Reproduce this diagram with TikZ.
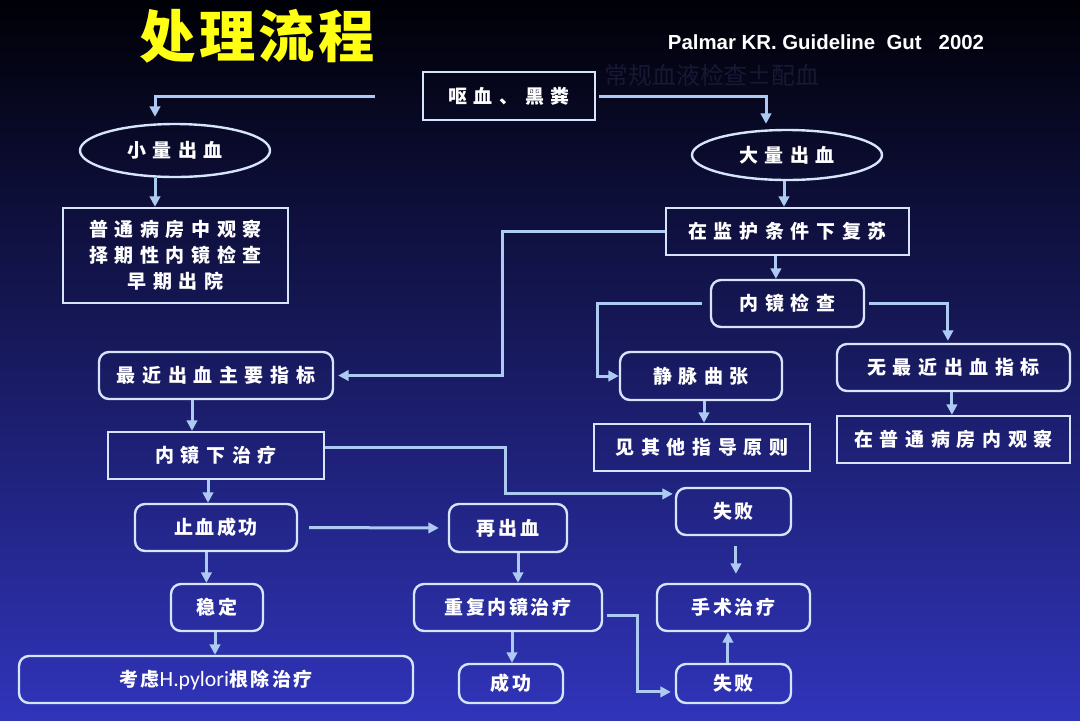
\documentclass[tikz,border=0pt]{standalone}
\usepackage{fontspec}
\setmainfont{Liberation Sans}
\newfontfamily\cjk[LetterSpace=35]{Noto Sans CJK SC}
\newfontfamily\cjktight[LetterSpace=14]{Noto Sans CJK SC}
\newfontfamily\cjktitle[LetterSpace=6]{Noto Sans CJK SC}
\newfontfamily\cjkplain{Noto Sans CJK SC}
\newfontfamily\latin{Carlito}
\usetikzlibrary{shapes.geometric, positioning, arrows.meta}
\definecolor{bgtop}{RGB}{0,0,6}
\definecolor{bgmid}{RGB}{30,33,128}
\definecolor{bgbot}{RGB}{48,52,186}
\definecolor{frame}{RGB}{214,228,252}
\definecolor{wire}{RGB}{172,202,242}
\definecolor{ghost}{RGB}{24,24,52}
\definecolor{titleyel}{RGB}{255,255,20}
\tikzset{x=0.25mm,y=-0.25mm,
  box/.style={draw=frame,line width=0.6mm,text=white,inner sep=0pt,align=center,
    font=\cjk\bfseries\fontsize{13.5}{18.5}\selectfont},
  rbox/.style={box,rounded corners=2.5mm},
  lbox/.style={rbox,font=\cjktight\bfseries\fontsize{13.5}{17}\selectfont},
  oval/.style={box,ellipse},
  arr/.style={draw=wire,line width=0.75mm,-{Triangle[length=2.6mm,width=2.6mm]}},
}

\begin{document}
\begin{tikzpicture}
\shade[top color=bgtop, middle color=bgmid, bottom color=bgbot] (0,0) rectangle (1080,720);
\node[font=\cjktitle\bfseries\fontsize{40}{44}\selectfont, text=titleyel] (title) at (257,36) {处理流程};
\node[font=\bfseries\fontsize{14.5}{17}\selectfont, text=white, anchor=west] (ref) at (663,42) {Palmar KR. Guideline\ \ Gut};
\node[font=\bfseries\fontsize{14.5}{17}\selectfont, text=white, anchor=east] (year) at (989,42) {2002};
\node[font=\cjkplain\fontsize{17}{20}\selectfont, text=ghost] (routine) at (712,75) {常规血液检查±配血};
\coordinate (vl) at (375,96);
\coordinate (cola) at (502,0);
\coordinate (colb) at (597,0);
\coordinate (colc) at (505,0);
\coordinate (cold) at (637,0);

\node[box, minimum width=43mm, minimum height=12mm] (hema) at (509,96) {呕血、黑粪};
\node[oval, minimum width=47.5mm, minimum height=13.25mm] (minor) at (175,150.5) {小量出血};
\node[box, minimum width=56.25mm, minimum height=23.75mm] (ward1) at (175.5,255.5) {普通病房中观察\\择期性内镜检查\\早期出院};
\node[oval, minimum width=47.5mm, minimum height=12.5mm] (major) at (787,155) {大量出血};
\node[box, minimum width=60.75mm, minimum height=11.75mm] (resus) at (787.5,231.5) {在监护条件下复苏};
\node[rbox, minimum width=38.25mm, minimum height=11.75mm] (scope1) at (787.5,303.5) {内镜检查};
\node[rbox, minimum width=40.5mm, minimum height=12mm] (varix) at (701,376) {静脉曲张};
\node[box, minimum width=54mm, minimum height=11.75mm] (guide) at (702,447.5) {见其他指导原则};
\node[rbox, minimum width=58.25mm, minimum height=11.75mm] (nosign) at (953.5,367.5) {无最近出血指标};
\node[box, minimum width=58.25mm, minimum height=11.75mm] (ward2) at (953.5,439.5) {在普通病房内观察};
\node[rbox, minimum width=58.5mm, minimum height=11.75mm] (sign) at (216,375.5) {最近出血主要指标};
\node[box, minimum width=54mm, minimum height=11.75mm] (etx) at (216,455.5) {内镜下治疗};
\node[lbox, minimum width=40.5mm, minimum height=11.75mm] (hemo) at (216,527.5) {止血成功};
\node[lbox, minimum width=29.5mm, minimum height=12mm] (rebleed) at (508,528) {再出血};
\node[lbox, minimum width=28.75mm, minimum height=11.75mm] (fail1) at (733.5,511.5) {失败};
\node[lbox, minimum width=23mm, minimum height=11.75mm] (stable) at (217,607.5) {稳定};
\node[lbox, minimum width=98.5mm, minimum height=11.75mm] (hp) at (216,679.5) {考虑{\latin\mdseries\fontsize{15.5}{17}\selectfont H.pylori}根除治疗};
\node[lbox, minimum width=47mm, minimum height=11.75mm] (repeat1) at (508,607.5) {重复内镜治疗};
\node[lbox, minimum width=26mm, minimum height=9.75mm] (ok) at (511,683.5) {成功};
\node[lbox, minimum width=38.25mm, minimum height=11.75mm] (surg) at (733.5,607.5) {手术治疗};
\node[lbox, minimum width=28.75mm, minimum height=9.75mm] (fail2) at (733.5,683.5) {失败};

\draw[arr, shorten >=1.5mm] (vl) -| ([xshift=-5mm]minor.north);
\draw[arr, shorten <=0.75mm, shorten >=1.25mm] (hema.east) -| ([xshift=-5.25mm]major.north);
\draw[arr] ([xshift=-5mm]minor.south) -- ([xshift=-5mm]minor.south |- ward1.north);
\draw[arr] ([xshift=-0.75mm]major.south) -- ([xshift=-0.75mm]major.south |- resus.north);
\draw[arr] ([xshift=-2.9mm]resus.south) -- ([xshift=-2.9mm]resus.south |- scope1.north);
\draw[arr, shorten >=1mm] (resus.west) -| (cola |- sign.east) -- (sign.east);
\draw[arr, shorten <=2mm] (scope1.west) -| (colb |- varix.west) -- (varix.west);
\draw[arr, shorten <=1mm, shorten >=0.5mm] (scope1.east) -| ([xshift=-1.4mm]nosign.north);
\draw[arr] ([xshift=0.75mm]varix.south) -- ([xshift=0.75mm]varix.south |- guide.north);
\draw[arr] ([xshift=-0.4mm]nosign.south) -- ([xshift=-0.4mm]nosign.south |- ward2.north);
\draw[arr] ([xshift=-6mm]sign.south) -- ([xshift=-6mm]sign.south |- etx.north);
\draw[arr, shorten >=0.5mm] ([yshift=1.9mm]etx.east) -| ([yshift=4.4mm]fail1.west -| colc) -- ([yshift=4.4mm]fail1.west);
\draw[arr] ([xshift=-2mm]etx.south) -- ([xshift=-2mm]etx.south |- hemo.north);
\draw[arr, shorten <=2.75mm, shorten >=2.25mm] (hemo.east) -- (rebleed.west);
\draw[arr, shorten <=2.5mm, shorten >=2.25mm] ([xshift=0.6mm]fail1.south) -- ([xshift=0.6mm]fail1.south |- surg.north);
\draw[arr] ([xshift=-2.4mm]hemo.south) -- ([xshift=-2.4mm]hemo.south |- stable.north);
\draw[arr] ([xshift=-0.5mm]stable.south) -- ([xshift=-0.5mm]stable.south |- hp.north);
\draw[arr] ([xshift=2.5mm]rebleed.south) -- ([xshift=2.5mm]rebleed.south |- repeat1.north);
\draw[arr] ([xshift=1mm]repeat1.south) -- ([xshift=1mm]repeat1.south |- ok.north);
\draw[arr, shorten <=1mm, shorten >=1mm] ([yshift=-1.9mm]repeat1.east) -| ([yshift=-2.1mm]fail2.west -| cold) -- ([yshift=-2.1mm]fail2.west);
\draw[arr] ([xshift=-1.4mm]fail2.north) -- ([xshift=-1.4mm]fail2.north |- surg.south);
\end{tikzpicture}
\end{document}
